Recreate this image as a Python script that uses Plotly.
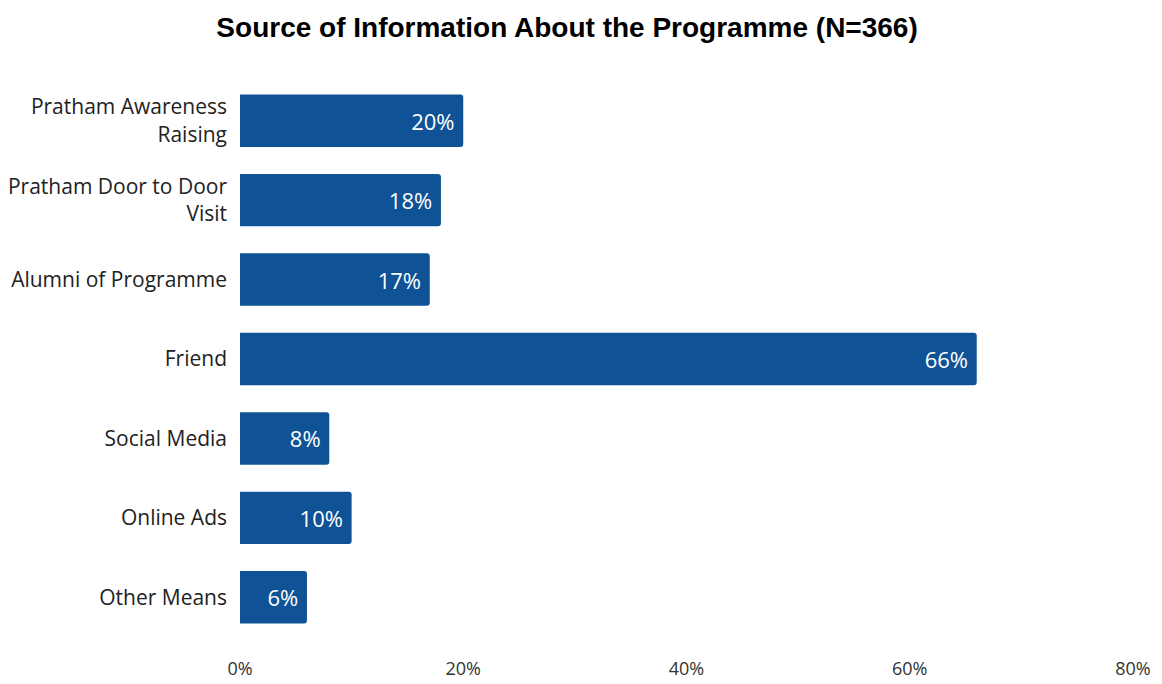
import plotly.graph_objects as go

# Survey results: where respondents heard about the programme
categories = [
    "Pratham Awareness<br>Raising",
    "Pratham Door to Door<br>Visit",
    "Alumni of Programme",
    "Friend",
    "Social Media",
    "Online Ads",
    "Other Means",
]
shares = [20, 18, 17, 66, 8, 10, 6]
x_ticks = [0, 20, 40, 60, 80]
x_tick_labels = ["0%", "20%", "40%", "60%", "80%"]

BAR_COLOR = "#0F5396"
LABEL_FONT = "Open Sans, Noto Sans, DejaVu Sans, sans-serif"

fig = go.Figure(
    go.Bar(
        x=shares,
        y=categories,
        orientation="h",
        marker=dict(color=BAR_COLOR, line=dict(width=0)),
        text=[f"{v}%\u00a0" for v in shares],
        textposition="inside",
        insidetextanchor="end",
        textfont=dict(color="white", size=22, family=LABEL_FONT),
        cliponaxis=False,
    )
)

fig.update_layout(
    width=1162,
    height=684,
    paper_bgcolor="white",
    plot_bgcolor="white",
    margin=dict(l=240, r=29, t=81, b=47),
    bargap=0.34,
    barcornerradius=3,
    showlegend=False,
    title=dict(
        text="<b>Source of Information About the Programme (N=366)</b>",
        x=0.488,
        xanchor="center",
        y=0.96,
        yanchor="middle",
        font=dict(family="Liberation Sans, Arial, sans-serif", size=28, color="black"),
    ),
    xaxis=dict(
        range=[0, 80],
        tickvals=x_ticks,
        ticktext=x_tick_labels,
        showgrid=False,
        zeroline=False,
        showline=False,
        ticks="",
        automargin=False,
        ticklabelstandoff=19,
        tickfont=dict(family=LABEL_FONT, size=18, color="#333333"),
    ),
    yaxis=dict(
        autorange="reversed",
        showgrid=False,
        zeroline=False,
        showline=False,
        ticks="",
        automargin=False,
        ticklabelstandoff=12,
        tickfont=dict(family=LABEL_FONT, size=21, color="#222222"),
    ),
)

fig.write_html("out.html")
